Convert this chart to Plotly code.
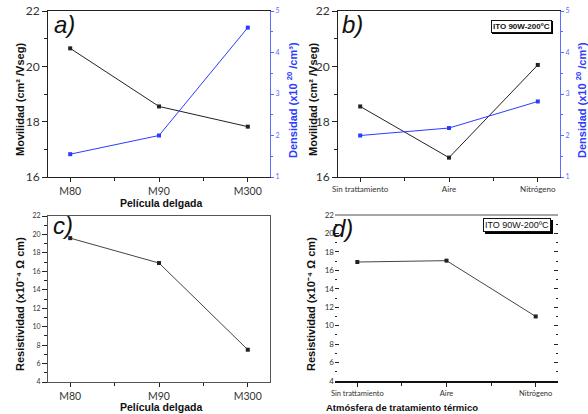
import plotly.graph_objects as go

# ---------------- data ----------------
films = ["M80", "M90", "M300"]
mobility_films = [20.65, 18.55, 17.82]
density_films = [1.55, 2.0, 4.6]

atmospheres = ["Sin trattamiento", "Aire", "Nitrógeno"]
mobility_atm = [18.55, 16.7, 20.05]
density_atm = [2.0, 2.18, 2.82]

resist_films = [19.6, 16.9, 7.5]
resist_atm = [16.9, 17.05, 11.0]

W, H = 588, 414
def px(x):
    return x / W
def py(y):
    return 1 - y / H

BLACK = "#222222"
BLUE = "#2b3bff"
BLUE_AX = "#5b6cff"
TICKC = "#333333"

xi_f = list(range(len(films)))
xi_a = list(range(len(atmospheres)))

fig = go.Figure()
mk = dict(symbol="square", size=4)
fig.add_trace(go.Scatter(x=xi_f, y=mobility_films, mode="lines+markers", line=dict(color=BLACK, width=1),
                         marker=dict(color=BLACK, **mk), xaxis="x", yaxis="y"))
fig.add_trace(go.Scatter(x=xi_f, y=density_films, mode="lines+markers", line=dict(color=BLUE, width=1),
                         marker=dict(color=BLUE, **mk), xaxis="x", yaxis="y2"))
fig.add_trace(go.Scatter(x=xi_a, y=mobility_atm, mode="lines+markers", line=dict(color=BLACK, width=1),
                         marker=dict(color=BLACK, **mk), xaxis="x2", yaxis="y3"))
fig.add_trace(go.Scatter(x=xi_a, y=density_atm, mode="lines+markers", line=dict(color=BLUE, width=1),
                         marker=dict(color=BLUE, **mk), xaxis="x2", yaxis="y4"))
fig.add_trace(go.Scatter(x=xi_f, y=resist_films, mode="lines+markers", line=dict(color="#444444", width=1),
                         marker=dict(color=BLACK, **mk), xaxis="x3", yaxis="y5"))
fig.add_trace(go.Scatter(x=xi_a, y=resist_atm, mode="lines+markers", line=dict(color="#444444", width=1),
                         marker=dict(color=BLACK, **mk), xaxis="x4", yaxis="y6"))

def xaxis(dom, anchor, labels, size, **kw):
    d = dict(domain=dom, anchor=anchor, range=[-0.25, len(labels) - 0.75], automargin=False,
             tickvals=list(range(len(labels))), ticktext=labels,
             ticks="outside", ticklen=4, tickcolor=BLACK, showline=True, linecolor=BLACK,
             linewidth=1, showgrid=False, zeroline=False, mirror=True,
             tickfont=dict(family="Lato", size=size, color=TICKC),
             minor=dict(tickvals=[i + 0.5 for i in range(len(labels) - 1)], ticks="outside",
                        ticklen=3, tickcolor=BLACK))
    d.update(kw)
    return d

def yaxis(dom, anchor, rng, size, **kw):
    d = dict(domain=dom, anchor=anchor, range=rng, dtick=2, ticks="outside", ticklen=5,
             automargin=False,
             tickcolor=BLACK, showline=True, linecolor=BLACK, linewidth=1, showgrid=False,
             zeroline=False, tickfont=dict(family="Lato", size=size, color=TICKC),
             minor=dict(dtick=1, ticks="outside", ticklen=3, tickcolor=BLACK))
    d.update(kw)
    return d

def yright(overlay, anchor, rng):
    return dict(overlaying=overlay, side="right", anchor=anchor, range=rng, dtick=1,
                automargin=False,
                ticks="outside", ticklen=3, tickcolor=BLUE_AX, showline=True, linecolor=BLUE_AX,
                linewidth=1.2, showgrid=False, zeroline=False,
                tickfont=dict(family="Lato", size=7, color=BLUE_AX),
                minor=dict(dtick=0.5, ticks="outside", ticklen=2, tickcolor=BLUE_AX))

dom_ax = [px(48), px(270)]
dom_bx = [px(338), px(560)]
dom_cx = [px(48), px(270)]
dom_dx = [px(335), px(558)]
dom_top = [py(177), py(11)]
dom_c = [py(382), py(216)]
dom_d = [py(381), py(215)]

fig.update_layout(
    width=W, height=H, margin=dict(l=0, r=0, t=0, b=0, autoexpand=False),
    paper_bgcolor="white", plot_bgcolor="white", showlegend=False,
    xaxis=xaxis(dom_ax, "y", films, 10.5),
    yaxis=yaxis(dom_top, "x", [16, 22], 12),
    yaxis2=yright("y", "x", [1, 5]),
    xaxis2=xaxis(dom_bx, "y3", atmospheres, 8),
    yaxis3=yaxis(dom_top, "x2", [16, 22], 12),
    yaxis4=yright("y3", "x2", [1, 5]),
    xaxis3=xaxis(dom_cx, "y5", films, 10.5, linecolor="#555555"),
    yaxis5=yaxis(dom_c, "x3", [4, 22], 7, linecolor="#555555", mirror=True),
    xaxis4=xaxis(dom_dx, "y6", atmospheres, 7.5, mirror=False, linewidth=2, linecolor="#111111"),
    yaxis6=yaxis(dom_d, "x4", [4, 22], 8, showline=False, ticks="inside",
                 ticklen=4, mirror="allticks",
                 minor=dict(dtick=1, ticks="inside", ticklen=2, tickcolor=BLACK)),
)
# mirror top line for panel d
fig.add_shape(type="line", xref="x4 domain", yref="y6 domain", x0=0, x1=1, y0=1, y1=1,
              line=dict(color="#888888", width=1.5))

mov_title = "<b>Movilidad (cm² /Vseg)</b>"
den_title = "<b>Densidad (x10 <sup>20</sup> /cm³)</b>"
res_title = "<b>Resistividad (x10⁻⁴ Ω cm)</b>"

def label(text, x, y, size, color="#111111", angle=0):
    fig.add_annotation(text=text, x=px(x), y=py(y), xref="paper", yref="paper",
                       xanchor="center", yanchor="middle", textangle=angle, showarrow=False,
                       font=dict(family="Liberation Sans", size=size, color=color))

label(mov_title, 20, 100, 11, angle=-90)
label(den_title, 292, 100, 11, color=BLUE, angle=-90)
label(mov_title, 313, 100, 11, angle=-90)
label(den_title, 581, 100, 11, color=BLUE, angle=-90)
label(res_title, 20, 304, 11, angle=-90)
label(res_title, 311, 304, 11, angle=-90)
label("<b>Película delgada</b>", 161, 203, 10.5)
label("<b>Película delgada</b>", 161, 407, 10.5)
label("<b>Atmósfera de tratamiento térmico</b>", 402, 407, 9.5)

letters = [("a)", 64, 24), ("b)", 352, 24), ("c)", 63, 225), ("d)", 342, 228)]
for t, x, y in letters:
    label("<i>" + t + "</i>", x, y, 24)

# boxes with shadow
for cx, cy, bold in [(521, 26, True), (517, 225, False)]:
    txt = "<b>ITO 90W-200ºC</b>" if bold else "ITO 90W-200ºC"
    fs = 8 if bold else 9
    fig.add_annotation(text=txt, x=px(cx + 1.5), y=py(cy + 1.5), xref="paper", yref="paper",
                       xanchor="center", yanchor="middle",
                       showarrow=False, bgcolor="#000000", bordercolor="#000000", borderwidth=1,
                       borderpad=1, font=dict(family="Liberation Sans", size=fs, color="#000000"))
    fig.add_annotation(text=txt, x=px(cx), y=py(cy), xref="paper", yref="paper",
                       xanchor="center", yanchor="middle",
                       showarrow=False, bgcolor="white", bordercolor="#111111", borderwidth=1,
                       borderpad=1, font=dict(family="Liberation Sans", size=fs, color="#111111"))

fig.write_html("out.html", post_script="document.body.style.margin='0px';",
               config={"displayModeBar": False})
